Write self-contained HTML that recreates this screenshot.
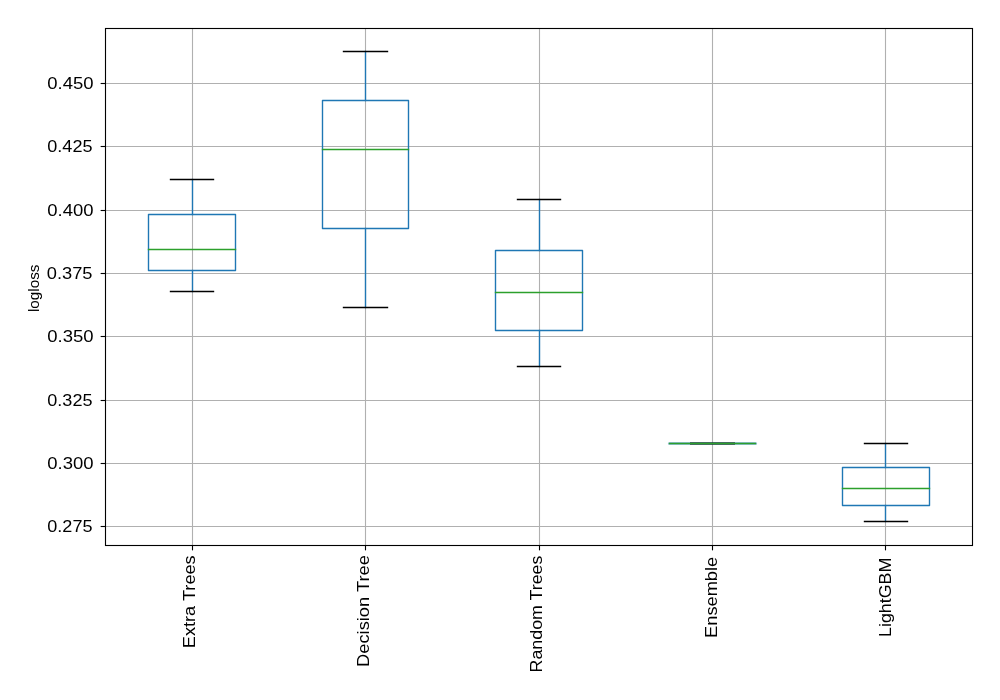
<!DOCTYPE html><html><head><meta charset="utf-8"><style>html,body{margin:0;padding:0;background:#fff;}svg{display:block;will-change:transform;}text{font-family:"Liberation Sans",sans-serif;fill:#000;}</style></head><body>
<svg width="1000" height="700" viewBox="0 0 1000 700">
<rect x="0" y="0" width="1000" height="700" fill="#fff"/>
<line x1="105.5" y1="83.5" x2="972.5" y2="83.5" stroke="#b0b0b0" stroke-width="1.111"/>
<line x1="105.5" y1="146.5" x2="972.5" y2="146.5" stroke="#b0b0b0" stroke-width="1.111"/>
<line x1="105.5" y1="210.5" x2="972.5" y2="210.5" stroke="#b0b0b0" stroke-width="1.111"/>
<line x1="105.5" y1="273.5" x2="972.5" y2="273.5" stroke="#b0b0b0" stroke-width="1.111"/>
<line x1="105.5" y1="336.5" x2="972.5" y2="336.5" stroke="#b0b0b0" stroke-width="1.111"/>
<line x1="105.5" y1="400.5" x2="972.5" y2="400.5" stroke="#b0b0b0" stroke-width="1.111"/>
<line x1="105.5" y1="463.5" x2="972.5" y2="463.5" stroke="#b0b0b0" stroke-width="1.111"/>
<line x1="105.5" y1="526.5" x2="972.5" y2="526.5" stroke="#b0b0b0" stroke-width="1.111"/>
<line x1="192.5" y1="28.5" x2="192.5" y2="545.5" stroke="#b0b0b0" stroke-width="1.111"/>
<line x1="365.5" y1="28.5" x2="365.5" y2="545.5" stroke="#b0b0b0" stroke-width="1.111"/>
<line x1="539.5" y1="28.5" x2="539.5" y2="545.5" stroke="#b0b0b0" stroke-width="1.111"/>
<line x1="712.5" y1="28.5" x2="712.5" y2="545.5" stroke="#b0b0b0" stroke-width="1.111"/>
<line x1="885.5" y1="28.5" x2="885.5" y2="545.5" stroke="#b0b0b0" stroke-width="1.111"/>
<line x1="192.5" y1="270.5" x2="192.5" y2="291.5" stroke="#1f77b4" stroke-width="1.389" stroke-linecap="square"/>
<line x1="192.5" y1="214.5" x2="192.5" y2="179.5" stroke="#1f77b4" stroke-width="1.389" stroke-linecap="square"/>
<line x1="170.5" y1="291.5" x2="213.5" y2="291.5" stroke="#000" stroke-width="1.389" stroke-linecap="square"/>
<line x1="170.5" y1="179.5" x2="213.5" y2="179.5" stroke="#000" stroke-width="1.389" stroke-linecap="square"/>
<path d="M148.5 270.5H235.5V214.5H148.5Z" fill="none" stroke="#1f77b4" stroke-width="1.389" stroke-linejoin="round"/>
<line x1="148.5" y1="249.5" x2="235.5" y2="249.5" stroke="#2ca02c" stroke-width="1.389" stroke-linecap="square"/>
<line x1="365.5" y1="228.5" x2="365.5" y2="307.5" stroke="#1f77b4" stroke-width="1.389" stroke-linecap="square"/>
<line x1="365.5" y1="100.5" x2="365.5" y2="51.5" stroke="#1f77b4" stroke-width="1.389" stroke-linecap="square"/>
<line x1="343.5" y1="307.5" x2="387.5" y2="307.5" stroke="#000" stroke-width="1.389" stroke-linecap="square"/>
<line x1="343.5" y1="51.5" x2="387.5" y2="51.5" stroke="#000" stroke-width="1.389" stroke-linecap="square"/>
<path d="M322.5 228.5H408.5V100.5H322.5Z" fill="none" stroke="#1f77b4" stroke-width="1.389" stroke-linejoin="round"/>
<line x1="322.5" y1="149.5" x2="408.5" y2="149.5" stroke="#2ca02c" stroke-width="1.389" stroke-linecap="square"/>
<line x1="539.5" y1="330.5" x2="539.5" y2="366.5" stroke="#1f77b4" stroke-width="1.389" stroke-linecap="square"/>
<line x1="539.5" y1="250.5" x2="539.5" y2="199.5" stroke="#1f77b4" stroke-width="1.389" stroke-linecap="square"/>
<line x1="517.5" y1="366.5" x2="560.5" y2="366.5" stroke="#000" stroke-width="1.389" stroke-linecap="square"/>
<line x1="517.5" y1="199.5" x2="560.5" y2="199.5" stroke="#000" stroke-width="1.389" stroke-linecap="square"/>
<path d="M495.5 330.5H582.5V250.5H495.5Z" fill="none" stroke="#1f77b4" stroke-width="1.389" stroke-linejoin="round"/>
<line x1="495.5" y1="292.5" x2="582.5" y2="292.5" stroke="#2ca02c" stroke-width="1.389" stroke-linecap="square"/>
<line x1="669.5" y1="443.5" x2="755.5" y2="443.5" stroke="#1f77b4" stroke-opacity="0.45" stroke-width="3" stroke-linecap="round"/>
<line x1="690" y1="443.5" x2="735" y2="443.5" stroke="#000" stroke-opacity="0.5" stroke-width="3"/>
<line x1="669.5" y1="443.5" x2="755.5" y2="443.5" stroke="#2ca02c" stroke-width="1.389" stroke-linecap="square"/>
<line x1="885.5" y1="505.5" x2="885.5" y2="521.5" stroke="#1f77b4" stroke-width="1.389" stroke-linecap="square"/>
<line x1="885.5" y1="467.5" x2="885.5" y2="443.5" stroke="#1f77b4" stroke-width="1.389" stroke-linecap="square"/>
<line x1="864.5" y1="521.5" x2="907.5" y2="521.5" stroke="#000" stroke-width="1.389" stroke-linecap="square"/>
<line x1="864.5" y1="443.5" x2="907.5" y2="443.5" stroke="#000" stroke-width="1.389" stroke-linecap="square"/>
<path d="M842.5 505.5H929.5V467.5H842.5Z" fill="none" stroke="#1f77b4" stroke-width="1.389" stroke-linejoin="round"/>
<line x1="842.5" y1="488.5" x2="929.5" y2="488.5" stroke="#2ca02c" stroke-width="1.389" stroke-linecap="square"/>
<rect x="105.5" y="28.5" width="867" height="517" fill="none" stroke="#000" stroke-width="1.111"/>
<line x1="100.64" y1="83.5" x2="105.5" y2="83.5" stroke="#000" stroke-width="1.111"/>
<line x1="100.64" y1="146.5" x2="105.5" y2="146.5" stroke="#000" stroke-width="1.111"/>
<line x1="100.64" y1="210.5" x2="105.5" y2="210.5" stroke="#000" stroke-width="1.111"/>
<line x1="100.64" y1="273.5" x2="105.5" y2="273.5" stroke="#000" stroke-width="1.111"/>
<line x1="100.64" y1="336.5" x2="105.5" y2="336.5" stroke="#000" stroke-width="1.111"/>
<line x1="100.64" y1="400.5" x2="105.5" y2="400.5" stroke="#000" stroke-width="1.111"/>
<line x1="100.64" y1="463.5" x2="105.5" y2="463.5" stroke="#000" stroke-width="1.111"/>
<line x1="100.64" y1="526.5" x2="105.5" y2="526.5" stroke="#000" stroke-width="1.111"/>
<line x1="192.5" y1="545.5" x2="192.5" y2="550.36" stroke="#000" stroke-width="1.111"/>
<line x1="365.5" y1="545.5" x2="365.5" y2="550.36" stroke="#000" stroke-width="1.111"/>
<line x1="539.5" y1="545.5" x2="539.5" y2="550.36" stroke="#000" stroke-width="1.111"/>
<line x1="712.5" y1="545.5" x2="712.5" y2="550.36" stroke="#000" stroke-width="1.111"/>
<line x1="885.5" y1="545.5" x2="885.5" y2="550.36" stroke="#000" stroke-width="1.111"/>
<text x="93.60" y="89.25" font-size="16.67" text-anchor="end" textLength="46.30" lengthAdjust="spacingAndGlyphs">0.450</text>
<text x="92.50" y="152.25" font-size="16.67" text-anchor="end" textLength="45.20" lengthAdjust="spacingAndGlyphs">0.425</text>
<text x="93.60" y="216.25" font-size="16.67" text-anchor="end" textLength="46.30" lengthAdjust="spacingAndGlyphs">0.400</text>
<text x="92.50" y="278.50" font-size="16.67" text-anchor="end" textLength="45.70" lengthAdjust="spacingAndGlyphs">0.375</text>
<text x="93.60" y="342.25" font-size="16.67" text-anchor="end" textLength="46.30" lengthAdjust="spacingAndGlyphs">0.350</text>
<text x="92.50" y="406.25" font-size="16.67" text-anchor="end" textLength="45.20" lengthAdjust="spacingAndGlyphs">0.325</text>
<text x="93.60" y="469.25" font-size="16.67" text-anchor="end" textLength="46.30" lengthAdjust="spacingAndGlyphs">0.300</text>
<text x="92.50" y="532.25" font-size="16.67" text-anchor="end" textLength="45.20" lengthAdjust="spacingAndGlyphs">0.275</text>
<text transform="translate(39.00,288.30) rotate(-90)" font-size="13.89" text-anchor="middle" textLength="47.50" lengthAdjust="spacingAndGlyphs">logloss</text>
<text transform="translate(195.20,555.30) rotate(-90)" font-size="16.67" text-anchor="end" textLength="92.95" lengthAdjust="spacingAndGlyphs">Extra Trees</text>
<text transform="translate(369.17,555.10) rotate(-90)" font-size="16.67" text-anchor="end" textLength="111.85" lengthAdjust="spacingAndGlyphs">Decision Tree</text>
<text transform="translate(541.55,555.60) rotate(-90)" font-size="16.67" text-anchor="end" textLength="116.80" lengthAdjust="spacingAndGlyphs">Random Trees</text>
<text transform="translate(717.20,556.80) rotate(-90)" font-size="16.67" text-anchor="end" textLength="81.15" lengthAdjust="spacingAndGlyphs">Ensemble</text>
<text transform="translate(890.58,557.75) rotate(-90)" font-size="16.67" text-anchor="end" textLength="79.20" lengthAdjust="spacingAndGlyphs">LightGBM</text>
</svg></body></html>
